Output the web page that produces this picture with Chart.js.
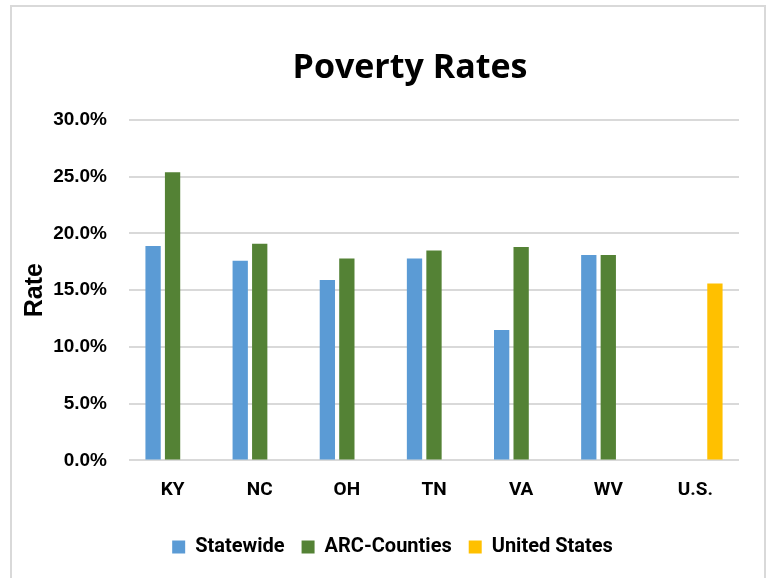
<!DOCTYPE html>
<html>
<head>
<meta charset="utf-8">
<script src="https://cdn.jsdelivr.net/npm/chart.js@4.4.1/dist/chart.umd.min.js"></script>
<style>
  html, body { margin: 0; padding: 0; background: #fff; }
  #wrap { position: absolute; left: 0; top: 0; width: 770px; height: 578px; }
</style>
</head>
<body>
<div id="wrap"><canvas id="c" width="770" height="578"></canvas></div>
<script>
const categories = ['KY', 'NC', 'OH', 'TN', 'VA', 'WV', 'U.S.'];
const statewide = [18.9, 17.6, 15.9, 17.8, 11.5, 18.1, null];
const arcCounties = [25.4, 19.1, 17.8, 18.5, 18.8, 18.1, null];
const unitedStates = [null, null, null, null, null, null, 15.6];
const seriesNames = ['Statewide', 'ARC-Counties', 'United States'];
const yTicks = [0, 5, 10, 15, 20, 25, 30];

const NARROW = 'Roboto, "Liberation Sans", sans-serif';

const frame = {
  id: 'frame',
  beforeDraw(chart) {
    const ctx = chart.ctx;
    ctx.save();
    ctx.fillStyle = '#fff';
    ctx.fillRect(0, 0, chart.width, chart.height);
    ctx.strokeStyle = '#d9d9d9';
    ctx.lineWidth = 2;
    ctx.beginPath();
    ctx.moveTo(11, 578);
    ctx.lineTo(11, 6);
    ctx.lineTo(765, 6);
    ctx.lineTo(765, 578);
    ctx.stroke();
    ctx.restore();
  },
  afterLayout(chart) {
    if (chart.titleBlock) { chart.titleBlock.left = 81; }
    if (chart.legend) { chart.legend.left += 23; chart.legend.right += 23; }
  }
};

new Chart(document.getElementById('c'), {
  type: 'bar',
  data: {
    labels: categories,
    datasets: [
      { label: seriesNames[0], data: statewide, backgroundColor: '#5B9BD5' },
      { label: seriesNames[1], data: arcCounties, backgroundColor: '#548235' },
      { label: seriesNames[2], data: unitedStates, backgroundColor: '#FFC000' }
    ]
  },
  options: {
    responsive: false,
    animation: false,
    devicePixelRatio: 1,
    layout: { padding: { left: 0, right: 31, top: 0, bottom: 11 } },
    datasets: { bar: { categoryPercentage: 0.671, barPercentage: 0.785 } },
    plugins: {
      title: {
        display: true,
        text: 'Poverty Rates',
        color: '#000',
        font: { family: '"Open Sans", sans-serif', weight: 'bold', size: 34 },
        padding: { top: 48, bottom: 31.2 }
      },
      legend: {
        position: 'bottom',
        labels: {
          boxWidth: 13,
          boxHeight: 13,
          padding: 17,
          color: '#000',
          font: { family: NARROW, weight: 'bold', size: 20 }
        }
      },
      tooltip: { enabled: false }
    },
    scales: {
      x: {
        afterFit(axis) { axis.height = 59.6; },
        grid: { display: false, drawTicks: false },
        border: { display: false },
        ticks: {
          color: '#000',
          padding: 18,
          font: { family: NARROW, weight: 'bold', size: 19 }
        }
      },
      y: {
        min: 0,
        max: 30,
        afterFit(axis) { axis.width = 129; },
        afterBuildTicks(axis) { axis.ticks = yTicks.map(v => ({ value: v })); },
        grid: { color: '#d9d9d9', lineWidth: 2, drawTicks: false },
        border: { display: false },
        ticks: {
          color: '#000',
          padding: 22,
          font: { family: '"Liberation Sans", Arial, sans-serif', weight: 'bold', size: 19 },
          callback: v => v.toFixed(1) + '%'
        },
        title: {
          display: true,
          text: 'Rate',
          color: '#000',
          font: { family: '"Liberation Sans", Arial, sans-serif', weight: 'bold', size: 25 },
          padding: { top: 20, bottom: 0 }
        }
      }
    }
  },
  plugins: [frame]
});
</script>
</body>
</html>
